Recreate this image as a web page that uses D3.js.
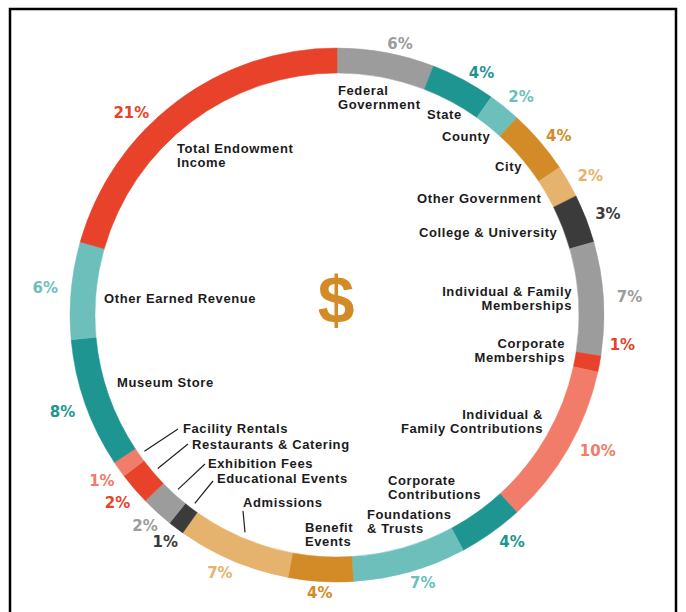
<!DOCTYPE html>
<html>
<head>
<meta charset="utf-8">
<script src="https://cdn.jsdelivr.net/npm/d3@7"></script>
<style>
  body { margin: 0; background: #fff; }
  svg { display: block; }
  .name { font-family: "Liberation Sans", Arial, sans-serif; font-weight: bold; font-size: 13px; letter-spacing: 0.6px; fill: #1b1b1b; }
  .pct { font-family: "DejaVu Sans", sans-serif; font-weight: bold; font-size: 15px; }
</style>
</head>
<body>
<svg></svg>
<script>
// revenue sources, clockwise from 12 o'clock
let categories = [
    'Federal Government', 'State', 'County', 'City', 'Other Government',
    'College & University', 'Individual & Family Memberships', 'Corporate Memberships',
    'Individual & Family Contributions', 'Corporate Contributions', 'Foundations & Trusts',
    'Benefit Events', 'Admissions', 'Educational Events', 'Exhibition Fees',
    'Restaurants & Catering', 'Facility Rentals', 'Museum Store', 'Other Earned Revenue',
    'Total Endowment Income'
]
let shares = [6, 4, 2, 4, 2, 3, 7, 1, 10, 4, 7, 4, 7, 1, 2, 2, 1, 8, 6, 21]
let pctLabels = ['6%', '4%', '2%', '4%', '2%', '3%', '7%', '1%', '10%', '4%', '7%', '4%', '7%', '1%', '2%', '2%', '1%', '8%', '6%', '21%']

let colors = [
    '#9c9c9c', '#1f9591', '#6dbfbb', '#d38b27', '#e6b36e', '#3b3b3b', '#9c9c9c', '#e8432a',
    '#f07c69', '#1f9591', '#6dbfbb', '#d38b27', '#e6b36e', '#3b3b3b', '#9c9c9c', '#e8432a',
    '#f07c69', '#1f9591', '#6dbfbb', '#e8432a'
]

let width = 686
let height = 612
let cx = 337
let cy = 315
let outerR = 267
let innerR = 242
let pctR = 287
let lineStep = 14.6

// small angle (deg) / radius nudges for the outside percent labels
let pctNudgeA = [2.5, 2.6, 1.4, 1.7, 1.2, 0.8, 0, -4.5, -2.5, -2.3, -1.9, 0, 1.5, 0, 0, 0, 0, 0, 0, -8.5]
let pctNudgeR = [-9, -5, -2, -2, 2, 2, 6, 0, 7, 0, -6, -8, -4, -2, -2, 2, 1, 4, 6, 1]

// where the category names sit inside the ring
let nameLayout = [
    { lines: ['Federal', 'Government'], x: 338, y: 95, anchor: 'start' },
    { lines: ['State'], x: 427, y: 119, anchor: 'start' },
    { lines: ['County'], x: 442, y: 141, anchor: 'start' },
    { lines: ['City'], x: 495, y: 171, anchor: 'start' },
    { lines: ['Other Government'], x: 417, y: 203, anchor: 'start' },
    { lines: ['College & University'], x: 419, y: 237, anchor: 'start' },
    { lines: ['Individual & Family', 'Memberships'], x: 572, y: 296, anchor: 'end' },
    { lines: ['Corporate', 'Memberships'], x: 565, y: 348, anchor: 'end' },
    { lines: ['Individual &', 'Family Contributions'], x: 543, y: 419, anchor: 'end' },
    { lines: ['Corporate', 'Contributions'], x: 388, y: 485, anchor: 'start' },
    { lines: ['Foundations', '& Trusts'], x: 367, y: 519, anchor: 'start' },
    { lines: ['Benefit', 'Events'], x: 305, y: 532, anchor: 'start' },
    { lines: ['Admissions'], x: 243, y: 507, anchor: 'start', lead: [243, 511] },
    { lines: ['Educational Events'], x: 217, y: 483, anchor: 'start', lead: [213, 481] },
    { lines: ['Exhibition Fees'], x: 208, y: 468, anchor: 'start', lead: [205, 464] },
    { lines: ['Restaurants & Catering'], x: 192, y: 449, anchor: 'start', lead: [188, 444] },
    { lines: ['Facility Rentals'], x: 183, y: 433, anchor: 'start', lead: [178, 429] },
    { lines: ['Museum Store'], x: 117, y: 387, anchor: 'start' },
    { lines: ['Other Earned Revenue'], x: 104, y: 303, anchor: 'start' },
    { lines: ['Total Endowment', 'Income'], x: 177, y: 153, anchor: 'start' }
]

let svg = d3.select('svg')
    .attr('width', width)
    .attr('height', height)

let polar = (a, r) => [cx + r * Math.sin(a), cy - r * Math.cos(a)]

let pie = d3.pie().sort(null).value(d => d)
let arcs = pie(shares)
let arc = d3.arc().innerRadius(innerR).outerRadius(outerR)

// frame
svg.append('path')
    .attr('d', 'M10,' + height + 'V9H676V' + height)
    .attr('fill', 'none')
    .attr('stroke', '#000')
    .attr('stroke-width', 2.5)

let ring = svg.append('g').attr('transform', 'translate(' + cx + ',' + cy + ')')

ring.selectAll('path')
    .data(arcs)
    .enter()
    .append('path')
    .attr('d', arc)
    .attr('fill', (d, i) => colors[i])
    .attr('stroke', (d, i) => colors[i])
    .attr('stroke-width', 0.5)
    .append('title')
    .text((d, i) => categories[i] + ': ' + pctLabels[i])

let pctPos = (d, i) => polar((d.startAngle + d.endAngle) / 2 + pctNudgeA[i] * Math.PI / 180, pctR + pctNudgeR[i])

// percent labels outside
svg.selectAll('text.pct')
    .data(arcs)
    .enter()
    .append('text')
    .attr('class', 'pct')
    .attr('text-anchor', 'middle')
    .attr('dominant-baseline', 'central')
    .attr('x', (d, i) => pctPos(d, i)[0])
    .attr('y', (d, i) => pctPos(d, i)[1])
    .attr('fill', (d, i) => colors[i])
    .text((d, i) => pctLabels[i])

// category names inside
nameLayout.forEach((lab, i) => {
    let y0 = lab.lines.length > 1 ? lab.y - 0.3 : lab.y
    let t = svg.append('text')
        .attr('class', 'name')
        .attr('text-anchor', lab.anchor)
        .attr('x', lab.x)
        .attr('y', y0)
    lab.lines.forEach((line, j) => {
        t.append('tspan')
            .attr('x', lab.x)
            .attr('dy', j === 0 ? 0 : lineStep)
            .text(line)
    })
    if (lab.lead) {
        let a = (arcs[i].startAngle + arcs[i].endAngle) / 2
        let p = polar(a, innerR - 6)
        svg.append('line')
            .attr('x1', p[0]).attr('y1', p[1])
            .attr('x2', lab.lead[0]).attr('y2', lab.lead[1])
            .attr('stroke', '#222')
            .attr('stroke-width', 1.2)
    }
})

// dollar sign in the middle
svg.append('text')
    .attr('x', 336)
    .attr('y', 323)
    .attr('text-anchor', 'middle')
    .attr('font-family', '"Liberation Sans", Arial, sans-serif')
    .attr('font-weight', 'bold')
    .attr('font-size', 66)
    .attr('fill', '#d38b27')
    .text('$')
</script>
</body>
</html>
